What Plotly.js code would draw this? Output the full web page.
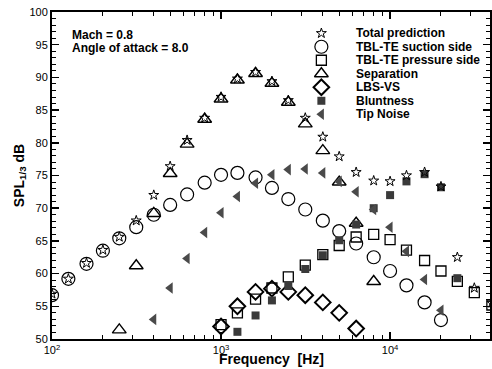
<!DOCTYPE html>
<html>
<head>
<meta charset="utf-8">
<script src="https://cdn.plot.ly/plotly-3.0.1.min.js"></script>
<style>html,body{margin:0;padding:0;background:#fff}#chart{width:492px;height:369px}</style>
</head>
<body>
<div id="chart"></div>
<script>
var freqs = [100,125,160,200,250,315,400,500,630,800,1000,1250,1600,2000,2500,3150,4000,5000,6300,8000,10000,12500,16000,20000,25000,31500,40000];
var totalPrediction = [56.9,59.2,61.6,63.6,65.6,68.1,72.0,76.4,80.4,83.8,87.0,89.8,90.8,89.4,86.5,83.8,80.9,77.9,75.5,74.2,74.1,75.0,75.5,73.3,62.5,57.8,55.5];
var tblSuction = [56.7,59.2,61.5,63.5,65.4,67.1,69.0,70.5,72.1,73.9,75.1,75.4,74.7,73.1,71.4,69.8,68.1,66.5,64.6,62.5,60.4,58.2,55.6,52.9,null,null,null];
var tblPressure = [null,null,null,null,null,null,null,null,null,null,52.2,54.0,56.1,57.8,59.5,61.3,62.9,64.3,65.6,66.0,65.2,63.6,62.0,60.4,58.8,57.1,55.2];
var separation = [null,null,null,null,51.4,61.2,69.2,75.3,79.8,83.6,86.7,89.6,90.6,89.1,86.2,82.9,78.8,74.0,67.7,58.8,null,null,null,null,null,null,null];
var lbsVs = [null,null,null,null,null,null,null,null,null,null,51.9,55.0,57.2,57.7,57.2,56.7,55.6,54.0,51.6,null,null,null,null,null,null,null,null];
var bluntness = [null,null,null,null,null,null,null,null,null,null,null,51.1,53.6,55.9,58.1,60.7,62.8,65.1,67.5,70.0,72.0,74.1,75.2,73.2,59.3,null,null];
var tipNoise = [null,null,null,null,null,null,53.0,57.8,62.3,66.3,69.3,71.8,73.8,75.1,75.9,76.0,75.4,74.1,72.5,69.8,67.1,63.4,59.1,54.4,null,null,null];

var seriesNames = ["Total prediction","TBL-TE suction side","TBL-TE pressure side","Separation","LBS-VS","Bluntness","Tip Noise"];
var seriesData = [totalPrediction,tblSuction,tblPressure,separation,lbsVs,bluntness,tipNoise];
var markers = [
  {symbol:"star-open", size:7.5, color:"#000", line:{color:"#000", width:1}},
  {symbol:"circle-open", size:13, color:"#000", line:{color:"#000", width:1.2}},
  {symbol:"square-open", size:10, color:"#000", line:{color:"#000", width:1.3}},
  {symbol:"triangle-up-open", size:12, color:"#000", line:{color:"#000", width:1.4}},
  {symbol:"diamond-open", size:12, color:"#000", line:{color:"#000", width:2}},
  {symbol:"square", size:8, color:"#3a3a3a", line:{width:0}},
  {symbol:"triangle-left", size:10, color:"#4a4a4a", line:{width:0}}
];
var drawOrder = [1,2,3,4,5,6,0];

var traces = [];
drawOrder.forEach(function(i){
  traces.push({x:freqs, y:seriesData[i], name:seriesNames[i], type:"scatter", mode:"markers",
    marker:markers[i], showlegend:false, cliponaxis:true, hoverinfo:"x+y+name"});
});

// manual legend keys on an overlay unit axis
var legX = 0.615, legTextX = 0.69, legTop = 0.935, legStep = 0.0413;
var font12 = {family:"Liberation Sans, Arial, sans-serif", size:12, color:"#000"};
var annotations = [];
seriesNames.forEach(function(n,i){
  traces.push({x:[legX], y:[legTop - i*legStep], xaxis:"x2", yaxis:"y2", type:"scatter", mode:"markers",
    marker:markers[i], showlegend:false, hoverinfo:"skip"});
  annotations.push({xref:"paper", yref:"paper", x:legTextX, y:legTop - i*legStep, xanchor:"left", yanchor:"middle",
    text:"<b>"+n+"</b>", showarrow:false, font:font12});
});
annotations.push({xref:"paper", yref:"paper", x:0.041, y:0.930, xanchor:"left", yanchor:"middle",
  text:"<b>Mach = 0.8</b>", showarrow:false, font:font12});
annotations.push({xref:"paper", yref:"paper", x:0.041, y:0.891, xanchor:"left", yanchor:"middle",
  text:"<b>Angle of attack = 8.0</b>", showarrow:false, font:font12});
// x-axis title
annotations.push({xref:"paper", yref:"paper", x:0.5, y:0, xanchor:"center", yanchor:"bottom", yshift:-30,
  text:"<b>Frequency  [Hz]</b>", showarrow:false, font:{family:"Liberation Sans, Arial, sans-serif", size:14, color:"#000"}});

var xMajor = [100,1000,10000];
var xMajorText = ["10<sup>2</sup>","10<sup>3</sup>","10<sup>4</sup>"];
var xMinor = [200,300,400,500,600,700,800,900,2000,3000,4000,5000,6000,7000,8000,9000,20000,30000,40000];
var yTicks = [50,55,60,65,70,75,80,85,90,95,100];

var layout = {
  width:492, height:369,
  margin:{l:52, r:2, t:12, b:30},
  paper_bgcolor:"#fff", plot_bgcolor:"#fff",
  font:{family:"Liberation Sans, Arial, sans-serif", size:11, color:"#000"},
  xaxis:{type:"log", range:[2, Math.log10(39000)], showgrid:false, zeroline:false,
    showline:true, linecolor:"#000", linewidth:2, mirror:"allticks",
    ticks:"inside", ticklen:7, tickwidth:1.5, tickcolor:"#000",
    tickmode:"array", tickvals:xMajor, ticktext:xMajorText,
    tickfont:{size:11},
    minor:{tickmode:"array", tickvals:xMinor, ticks:"inside", ticklen:4, tickwidth:1, tickcolor:"#000", showgrid:false}},
  yaxis:{range:[50,100], showgrid:false, zeroline:false,
    showline:true, linecolor:"#000", linewidth:2, mirror:"allticks",
    ticks:"inside", ticklen:7, tickwidth:1.5, tickcolor:"#000",
    tickmode:"array", tickvals:yTicks, ticksuffix:" ",
    minor:{dtick:1, ticks:"inside", ticklen:4, tickwidth:1, tickcolor:"#000", showgrid:false},
    title:{text:"<b>SPL<sub>1/3</sub> dB</b>", font:{size:14}, standoff:2}},
  xaxis2:{overlaying:"x", range:[0,1], visible:false, fixedrange:true},
  yaxis2:{overlaying:"y", range:[0,1], visible:false, fixedrange:true},
  annotations:annotations,
  showlegend:false
};

Plotly.newPlot("chart", traces, layout, {staticPlot:true, displayModeBar:false});
</script>
</body>
</html>
